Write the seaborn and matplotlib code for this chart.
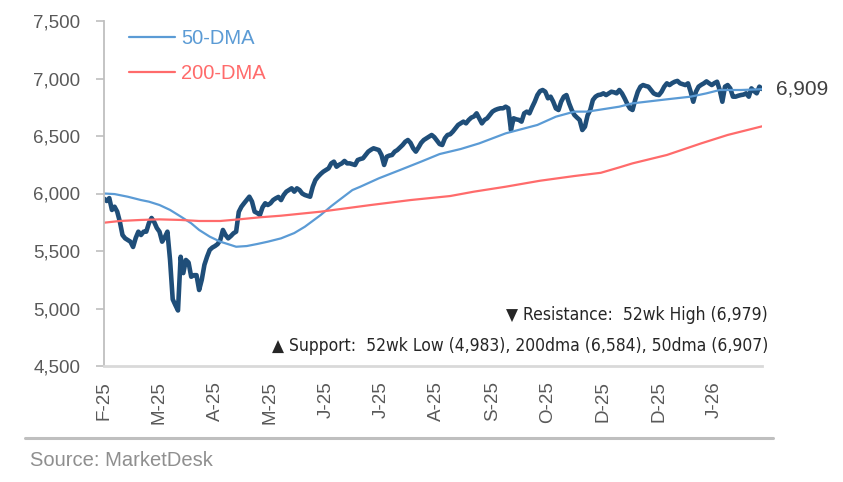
# plot.py
# Index price with 50- and 200-day moving averages, one year of trading days

import seaborn as sns
import numpy as np
import pandas as pd
import matplotlib.pyplot as plt
from matplotlib.lines import Line2D
from matplotlib.ticker import FuncFormatter
from matplotlib import font_manager


# Daily close (trading day index from the first date)
price_day = list(range(250))
price_close = [
    5955, 5935, 5960, 5857, 5885, 5842, 5755, 5639, 5610, 5596,
    5581, 5535, 5613, 5668, 5639, 5668, 5668, 5743, 5787, 5752,
    5700, 5668, 5581, 5620, 5668, 5420, 5080, 5030, 4983, 5450,
    5308, 5422, 5400, 5276, 5290, 5290, 5161, 5250, 5380, 5450,
    5509, 5530, 5543, 5560, 5596, 5683, 5639, 5610, 5630, 5654,
    5668, 5840, 5885, 5915, 5943, 5972, 5930, 5842, 5830, 5813,
    5880, 5915, 5900, 5915, 5943, 5958, 5970, 5943, 5987, 6016,
    6030, 6045, 6016, 6045, 6030, 6000, 5987, 5980, 5972, 6059,
    6117, 6146, 6170, 6190, 6205, 6219, 6262, 6277, 6233, 6250,
    6262, 6283, 6262, 6262, 6255, 6248, 6291, 6300, 6306, 6335,
    6364, 6380, 6393, 6385, 6378, 6335, 6248, 6320, 6330, 6335,
    6364, 6378, 6400, 6422, 6450, 6465, 6440, 6393, 6364, 6400,
    6440, 6465, 6480, 6494, 6509, 6490, 6460, 6430, 6422, 6480,
    6509, 6515, 6538, 6567, 6596, 6610, 6625, 6610, 6639, 6660,
    6670, 6697, 6654, 6610, 6640, 6654, 6683, 6712, 6726, 6735,
    6741, 6741, 6755, 6741, 6552, 6654, 6645, 6640, 6625, 6697,
    6712, 6697, 6750, 6798, 6856, 6890, 6900, 6885, 6828, 6842,
    6798, 6740, 6726, 6798, 6842, 6856, 6784, 6726, 6683, 6660,
    6639, 6552, 6581, 6680, 6726, 6813, 6842, 6856, 6860, 6871,
    6856, 6871, 6885, 6880, 6871, 6900, 6871, 6828, 6780, 6740,
    6726, 6813, 6885, 6929, 6943, 6935, 6929, 6900, 6871, 6860,
    6856, 6885, 6929, 6958, 6943, 6960, 6972, 6979, 6958, 6950,
    6943, 6958, 6885, 6798, 6885, 6929, 6945, 6958, 6975, 6958,
    6943, 6960, 6972, 6900, 6798, 6929, 6943, 6914, 6842, 6842,
    6850, 6856, 6860, 6871, 6842, 6914, 6890, 6871, 6929, 6909,
]

# 50-day moving average
ma50_day = [0, 4, 9, 14, 17, 21, 25, 29, 33, 36, 40, 44, 48, 50, 54, 58, 62,
            67, 72, 76, 82, 86, 89, 94, 97, 104, 112, 120, 127, 135, 142, 152,
            164, 171, 178, 183, 188, 195, 200, 213, 222, 228, 233, 241, 249]
ma50 = [6000, 5995, 5972, 5943, 5929, 5900, 5857, 5800, 5741, 5683, 5625,
        5581, 5552, 5537, 5543, 5561, 5581, 5610, 5656, 5711, 5813, 5890,
        5943, 6030, 6059, 6132, 6204, 6277, 6343, 6387, 6436, 6523, 6596,
        6668, 6712, 6712, 6730, 6755, 6784, 6819, 6842, 6871, 6900, 6900,
        6907]

# 200-day moving average
ma200_day = [0, 6, 14, 21, 29, 36, 44, 51, 59, 67, 82, 101, 116, 131, 140,
             152, 165, 178, 188, 195, 200, 213, 226, 236, 249]
ma200 = [5746, 5761, 5770, 5775, 5770, 5761, 5761, 5775, 5793, 5807, 5842,
         5900, 5943, 5978, 6016, 6059, 6111, 6152, 6180, 6227, 6262, 6335,
         6436, 6509, 6584]

# Axis labels, one every 21 trading days
xtick_day = list(range(0, 232, 21))
xtick_labels = ["F-25", "M-25", "A-25", "M-25", "J-25", "J-25",
                "A-25", "S-25", "O-25", "D-25", "D-25", "J-26"]
yticks = [4500, 5000, 5500, 6000, 6500, 7000, 7500]

resistance_text = "\u25bc Resistance:  52wk High (6,979)"
support_text = "\u25b2 Support:  52wk Low (4,983), 200dma (6,584), 50dma (6,907)"

price_df = pd.DataFrame({"day": price_day, "close": price_close})
ma50_df = pd.DataFrame({"day": ma50_day, "value": ma50})
ma200_df = pd.DataFrame({"day": ma200_day, "value": ma200})

# Plain white theme, then the fonts (set_style resets font.family)
sns.set_style("white")
plt.rcParams["font.family"] = ["Liberation Sans", "DejaVu Sans"]

W, H = 843, 482
fig = plt.figure(figsize=(W / 100, H / 100), dpi=100)
ax = fig.add_axes([104 / W, 1 - 366 / H, (762 - 104) / W, (366 - 21) / H])

navy = "#1f4e79"
blue = "#5b9bd5"
red = "#ff6b6b"

# Price first so the averages sit on top of it
sns.lineplot(data=price_df, x="day", y="close", ax=ax, color=navy,
             linewidth=3.3, legend=False, solid_capstyle="round",
             solid_joinstyle="round")
sns.lineplot(data=ma50_df, x="day", y="value", ax=ax, color=blue,
             linewidth=1.6, label="50-DMA")
sns.lineplot(data=ma200_df, x="day", y="value", ax=ax, color=red,
             linewidth=1.6, label="200-DMA")

ax.set_xlim(0, price_day[-1])
ax.set_ylim(yticks[0], yticks[-1])
ax.set_xlabel("")
ax.set_ylabel("")

# Axes styling
for side in ["top", "right"]:
    ax.spines[side].set_visible(False)
ax.spines["left"].set_color("#bfbfbf")
ax.spines["left"].set_linewidth(1.3)
ax.spines["bottom"].set_color("#d9d9d9")
ax.spines["bottom"].set_linewidth(2)

ax.set_yticks(yticks)
ax.yaxis.set_major_formatter(FuncFormatter(lambda v, p: f"{v:,.0f}"))
ax.tick_params(axis="y", left=True, length=6, width=1.2, color="#bfbfbf",
               labelcolor="#595959", labelsize=13.5, pad=11)

ax.set_xticks(xtick_day)
ax.set_xticklabels(xtick_labels, rotation=90)
ax.tick_params(axis="x", bottom=False, length=0, labelcolor="#595959",
               labelsize=13.5, pad=11)

# Legend with coloured text, no frame
handles = ax.get_lines()[1:3]
ax.legend(handles=handles, labels=["50-DMA", "200-DMA"],
          loc="upper left", bbox_to_anchor=(129 / W, 1 - 29 / H),
          bbox_transform=fig.transFigure, frameon=False, fontsize=14.5,
          handlelength=2.3, handletextpad=0.3, labelspacing=0.8,
          borderpad=0, borderaxespad=0, labelcolor="linecolor")

# Last value label
ax.annotate(f"{price_close[-1]:,}", xy=(price_day[-1], price_close[-1]),
            xytext=(10, 0), textcoords="offset points", va="center",
            ha="left", fontsize=15, color="#404040", annotation_clip=False)

# Support / resistance notes in a narrow face where one is installed
names = {f.name for f in font_manager.fontManager.ttflist}
if "Liberation Sans Narrow" in names:
    note_font = dict(family=["Liberation Sans Narrow", "DejaVu Sans"], fontsize=14)
else:
    note_font = dict(family=["DejaVu Sans"], fontstretch="condensed", fontsize=12.5)

fig.text(768 / W, 1 - 315 / H, resistance_text, ha="right", va="center",
         color="#262626", **note_font)
fig.text(768 / W, 1 - 346 / H, support_text, ha="right", va="center",
         color="#262626", **note_font)

# Rule and source line
fig.add_artist(Line2D([25 / W, 773 / W], [1 - 438 / H, 1 - 438 / H],
                      color="#bfbfbf", linewidth=2.2))
fig.text(30 / W, 1 - 460 / H, "Source: MarketDesk", ha="left", va="center",
         fontsize=14.5, color="#8f8f8f")

fig.savefig("out.png", dpi=100)
